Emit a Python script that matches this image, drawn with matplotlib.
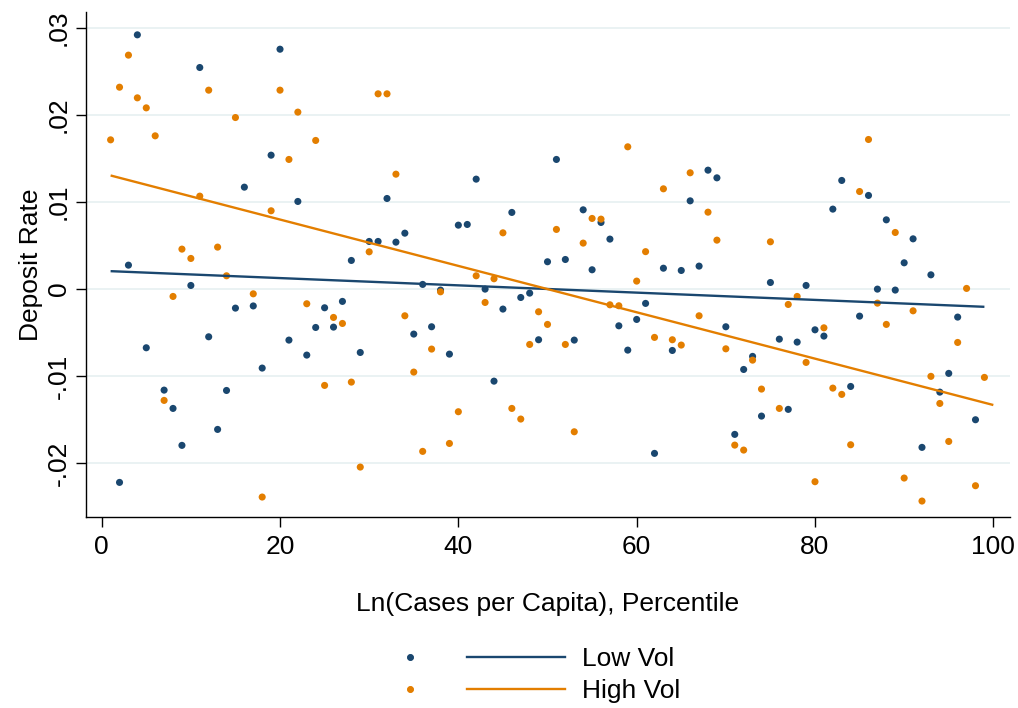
import numpy as np
import matplotlib
matplotlib.use("Agg")
import matplotlib.pyplot as plt
from matplotlib.lines import Line2D

plt.rcParams['font.family'] = ['Liberation Sans', 'DejaVu Sans']

nan = np.nan
percentile = list(range(1, 100))

low_vol = [
    nan, -0.02218, 0.00275, 0.02918, -0.00673, nan, -0.01159, -0.01369, -0.01793, 0.00042,
    0.02543, -0.00547, -0.01610, -0.01163, -0.00218, 0.01170, -0.00193, -0.00906, 0.01537, 0.02753,
    -0.00585, 0.01006, -0.00757, -0.00440, -0.00214, -0.00436, -0.00141, 0.00329, -0.00727, 0.00547,
    0.00547, 0.01040, 0.00539, 0.00642, -0.00516, 0.00054, -0.00432, -0.00011, -0.00746, 0.00734,
    0.00742, 0.01262, 0.00000, -0.01056, -0.00229, 0.00880, -0.00096, -0.00046, -0.00581, 0.00314,
    0.01488, 0.00340, -0.00585, 0.00910, 0.00222, 0.00765, 0.00574, -0.00421, -0.00700, -0.00348,
    -0.00164, -0.01885, 0.00240, -0.00704, 0.00214, 0.01013, 0.00264, 0.01365, 0.01277, -0.00432,
    -0.01667, -0.00922, -0.00772, -0.01457, 0.00076, -0.00574, -0.01380, -0.00608, 0.00042, -0.00467,
    -0.00539, 0.00918, 0.01247, -0.01117, -0.00310, 0.01075, 0.00000, 0.00795, -0.00011, 0.00302,
    0.00577, -0.01816, 0.00164, -0.01182, -0.00967, -0.00321, nan, -0.01499, nan,
]

high_vol = [
    0.01713, 0.02317, 0.02685, 0.02195, 0.02080, 0.01759, -0.01277, -0.00084, 0.00459, 0.00352,
    0.01067, 0.02283, 0.00482, 0.00153, 0.01969, nan, -0.00054, -0.02386, 0.00899, 0.02283,
    0.01488, 0.02031, -0.00168, 0.01706, -0.01105, -0.00325, -0.00394, -0.01067, -0.02042, 0.00428,
    0.02241, 0.02241, 0.01319, -0.00306, -0.00952, -0.01862, -0.00688, -0.00031, -0.01771, -0.01407,
    nan, 0.00153, -0.00153, 0.00119, 0.00646, -0.01369, -0.01491, -0.00635, -0.00260, -0.00405,
    0.00685, -0.00635, -0.01637, 0.00528, 0.00811, 0.00803, -0.00180, -0.00191, 0.01633, 0.00092,
    0.00430, -0.00554, 0.01151, -0.00581, -0.00642, 0.01335, -0.00306, 0.00883, 0.00562, -0.00685,
    -0.01790, -0.01847, -0.00815, -0.01147, 0.00543, -0.01369, -0.00176, -0.00084, -0.00841, -0.02210,
    -0.00444, -0.01136, -0.01208, -0.01786, 0.01120, 0.01717, -0.00161, -0.00405, 0.00650, -0.02168,
    -0.00249, -0.02432, -0.01001, -0.01312, -0.01748, -0.00612, 0.00008, -0.02256, -0.01013,
]

# fitted-line endpoints
fit_x_low = [1, 99]
fit_y_low = [0.00206, -0.00203]
fit_x_high = [1, 100]
fit_y_high = [0.01304, -0.01330]

series_labels = ["Low Vol", "High Vol"]
x_ticks = [0, 20, 40, 60, 80, 100]
y_ticks = [-0.02, -0.01, 0, 0.01, 0.02, 0.03]
y_tick_labels = ["-.02", "-.01", "0", ".01", ".02", ".03"]

BLUE = "#1A476F"
ORANGE = "#E37E00"
FS = 19

W, H = 1018, 708
fig = plt.figure(figsize=(W / 100, H / 100), dpi=100)
ax = fig.add_axes([86 / W, 1 - 517 / H, (1010 - 86) / W, (517 - 12) / H])

x = np.array(percentile, dtype=float)
lo = np.array(low_vol, dtype=float)
hi = np.array(high_vol, dtype=float)

for ys, color in ((lo, BLUE), (hi, ORANGE)):
    m = ~np.isnan(ys)
    ax.scatter(x[m], ys[m], s=26, color=color, edgecolors='none', zorder=3)

for fx, fy, color in ((fit_x_low, fit_y_low, BLUE), (fit_x_high, fit_y_high, ORANGE)):
    ax.plot(fx, fy, color=color, lw=1.7, zorder=4, solid_capstyle='butt')

ax.set_xlim(-1.76, 101.87)
ax.set_ylim(-0.02615, 0.0318)
ax.set_xticks(x_ticks)
ax.set_yticks(y_ticks)
ax.set_yticklabels(y_tick_labels, rotation=90, va='center')
ax.tick_params(axis='both', labelsize=FS, length=7, width=1, color='black')
ax.tick_params(axis='x', pad=6)
ax.tick_params(axis='y', pad=4)
ax.grid(axis='y', color='#EAF2F3', lw=1.4, zorder=0)
ax.set_axisbelow(True)
for s in ('top', 'right'):
    ax.spines[s].set_visible(False)
for s in ('left', 'bottom'):
    ax.spines[s].set_linewidth(1.0)
    ax.spines[s].set_color('black')

ax.set_xlabel("Ln(Cases per Capita), Percentile", fontsize=FS, labelpad=24)
ax.set_ylabel("Deposit Rate", fontsize=FS, labelpad=3)

marker_handles = [Line2D([], [], ls='none', marker='o', ms=4.8, color=BLUE, mec='none'),
                  Line2D([], [], ls='none', marker='o', ms=4.8, color=ORANGE, mec='none')]
line_handles = [Line2D([], [], color=BLUE, lw=1.7), Line2D([], [], color=ORANGE, lw=1.7)]

fontpx = FS * 100 / 72
leg1 = fig.legend(marker_handles, ["", ""], loc='upper left',
                  bbox_to_anchor=((410 - fontpx * 0.5) / W, 1 - 647 / H),
                  frameon=False, fontsize=FS, handlelength=1.0, borderpad=0,
                  borderaxespad=0, labelspacing=0.3, handletextpad=0)
leg2 = fig.legend(line_handles, series_labels, loc='upper left',
                  bbox_to_anchor=(467 / W, 1 - 647 / H),
                  frameon=False, fontsize=FS, handlelength=98 / fontpx, borderpad=0,
                  borderaxespad=0, labelspacing=0.3, handletextpad=17 / fontpx)
fig.add_artist(leg1)

fig.savefig("out.png", dpi=100, facecolor='white')
